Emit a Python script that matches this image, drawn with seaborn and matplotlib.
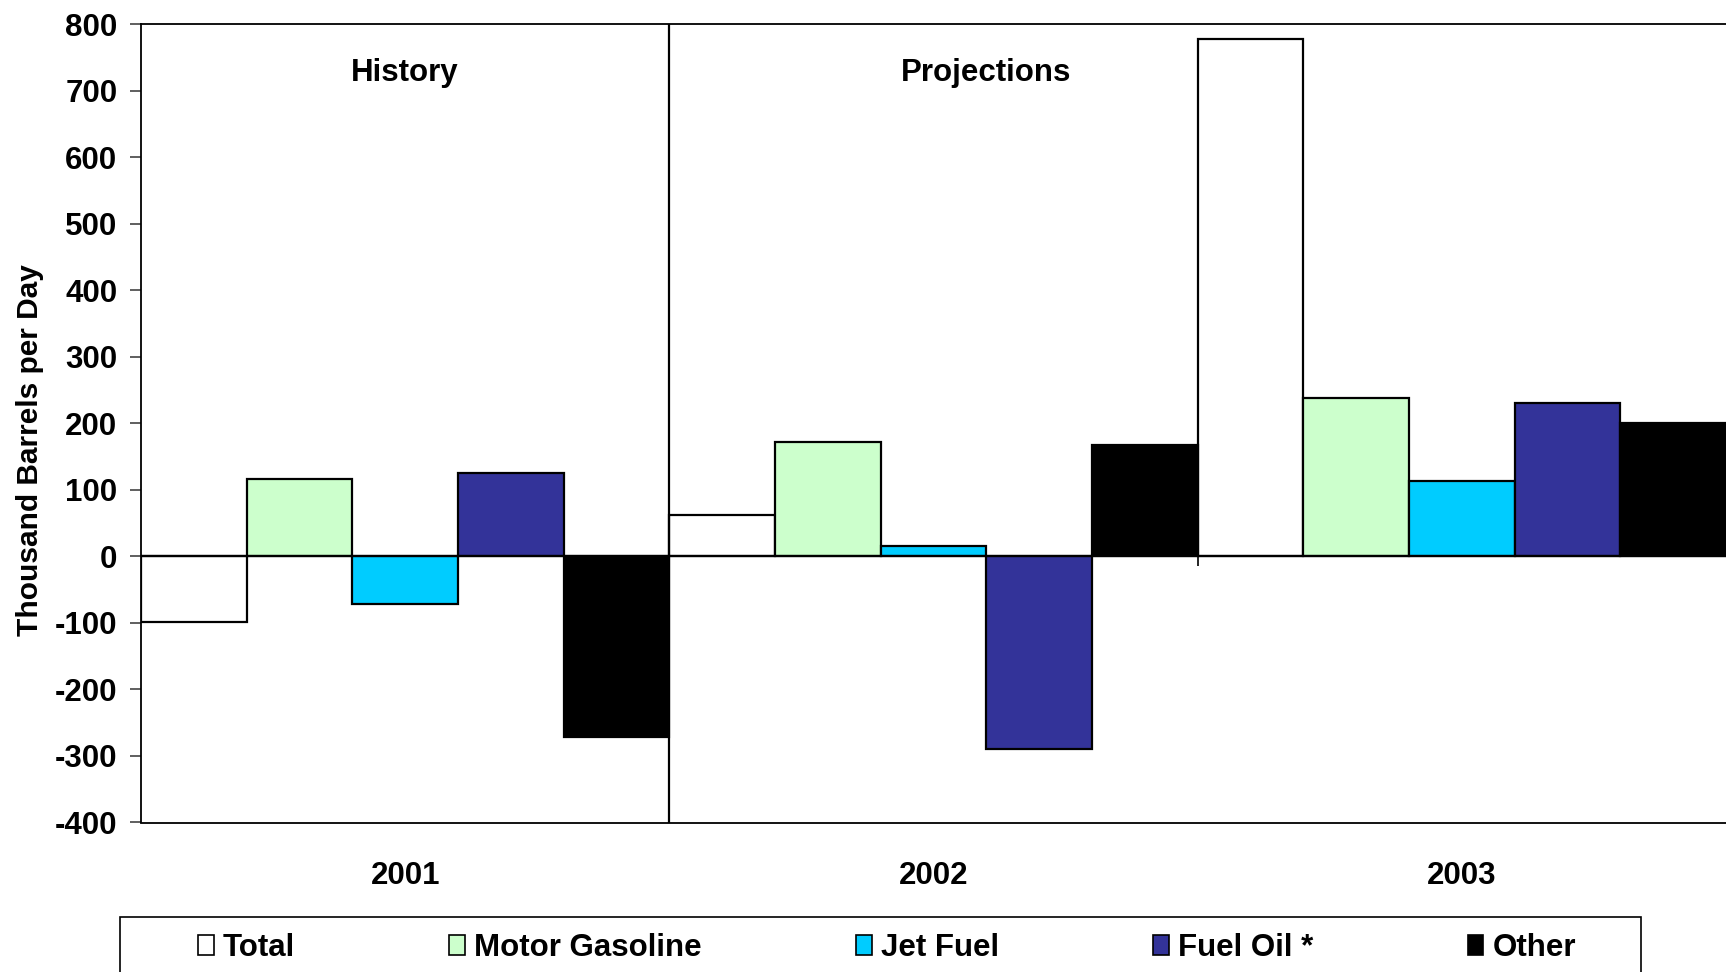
import matplotlib
matplotlib.use("Agg")
import matplotlib.pyplot as plt
from matplotlib.patches import Patch, Rectangle
import seaborn as sns
import pandas as pd

years = ["2001", "2002", "2003"]
series = ["Total", "Motor Gasoline", "Jet Fuel", "Fuel Oil *", "Other"]
total = [-99, 62, 778]
motor_gasoline = [117, 172, 238]
jet_fuel = [-71, 15, 113]
fuel_oil = [125, -290, 230]
other = [-272, 168, 201]
colors = ["#FFFFFF", "#CCFFCC", "#00CCFF", "#333399", "#000000"]
y_ticks = list(range(-400, 801, 100))

sns.set_theme(style="white")
fonts = ["Liberation Sans Narrow", "Liberation Sans", "DejaVu Sans"]
plt.rcParams["font.family"] = fonts
plt.rcParams["font.weight"] = "bold"
plt.rcParams["text.color"] = "black"
plt.rcParams["xtick.labelcolor"] = "black"
plt.rcParams["ytick.labelcolor"] = "black"

rows = []
for name, vals in zip(series, [total, motor_gasoline, jet_fuel, fuel_oil, other]):
    for yr, v in zip(years, vals):
        rows.append([yr, name, v])
df = pd.DataFrame(rows, columns=["year", "series", "value"])

fig = plt.figure(figsize=(17.26, 9.72), dpi=100)
ax = fig.add_axes([141 / 1726, 1 - 822.5 / 972, 1 - 141 / 1726, (822.5 - 24.2) / 972])

sns.barplot(data=df, x="year", y="value", hue="series", hue_order=series,
            order=years, palette=colors, width=1.0, edgecolor="black",
            linewidth=1.6, legend=False, ax=ax, saturation=1)

ax.set_xlim(-0.5, 2.5)
ax.set_ylim(-400, 800)
ax.set_yticks(y_ticks)
ax.set_yticklabels([str(t) for t in y_ticks], fontsize=22.5, fontweight="bold")
ax.set_xticks(range(len(years)))
ax.set_xticklabels(years, fontsize=22.5, fontweight="bold")
ax.tick_params(axis="x", length=0, pad=28)
ax.tick_params(axis="y", left=True, length=8, width=1.2, color="#444444", pad=9)
ax.set_xlabel("")
ax.set_ylabel("")

for side in ["top", "left", "bottom"]:
    ax.spines[side].set_color("black")
    ax.spines[side].set_linewidth(1.3)
ax.spines["right"].set_visible(False)

# zero line, history/projection divider and category ticks on the zero line
ax.axhline(0, color="black", lw=1.6, zorder=3)
ax.axvline(0.5, color="black", lw=1.6, zorder=3)
ax.vlines([0.5, 1.5], -14, 0, color="black", lw=1.2, zorder=3)

ax.text(0, 727, "History", ha="center", va="center", fontsize=22.5, fontweight="bold")
ax.text(1.1, 727, "Projections", ha="center", va="center", fontsize=22.5, fontweight="bold")

fig.text(30 / 1726, 1 - 450 / 972, "Thousand Barrels per Day", rotation=90,
         ha="center", va="center", fontsize=21.5, fontweight="bold",
         family=["Liberation Sans", "DejaVu Sans"])

handles = [Patch(facecolor=c, edgecolor="black", linewidth=1.2) for c in colors]
fig.legend(handles, series, loc="upper left", ncol=5, mode="expand",
           bbox_to_anchor=(198 / 1726, 1 - 933 / 972, (1576 - 198) / 1726, 0),
           frameon=False, borderpad=0, borderaxespad=0,
           handlelength=0.5, handleheight=0.6, handletextpad=0.3,
           prop={"size": 22.5, "weight": "bold", "family": fonts})
fig.patches.append(Rectangle((120 / 1726, -0.05), 1521 / 1726, (972 - 917) / 972 + 0.05,
                             transform=fig.transFigure, facecolor="none",
                             edgecolor="black", linewidth=1.2))

fig.savefig("out.png", dpi=100)
